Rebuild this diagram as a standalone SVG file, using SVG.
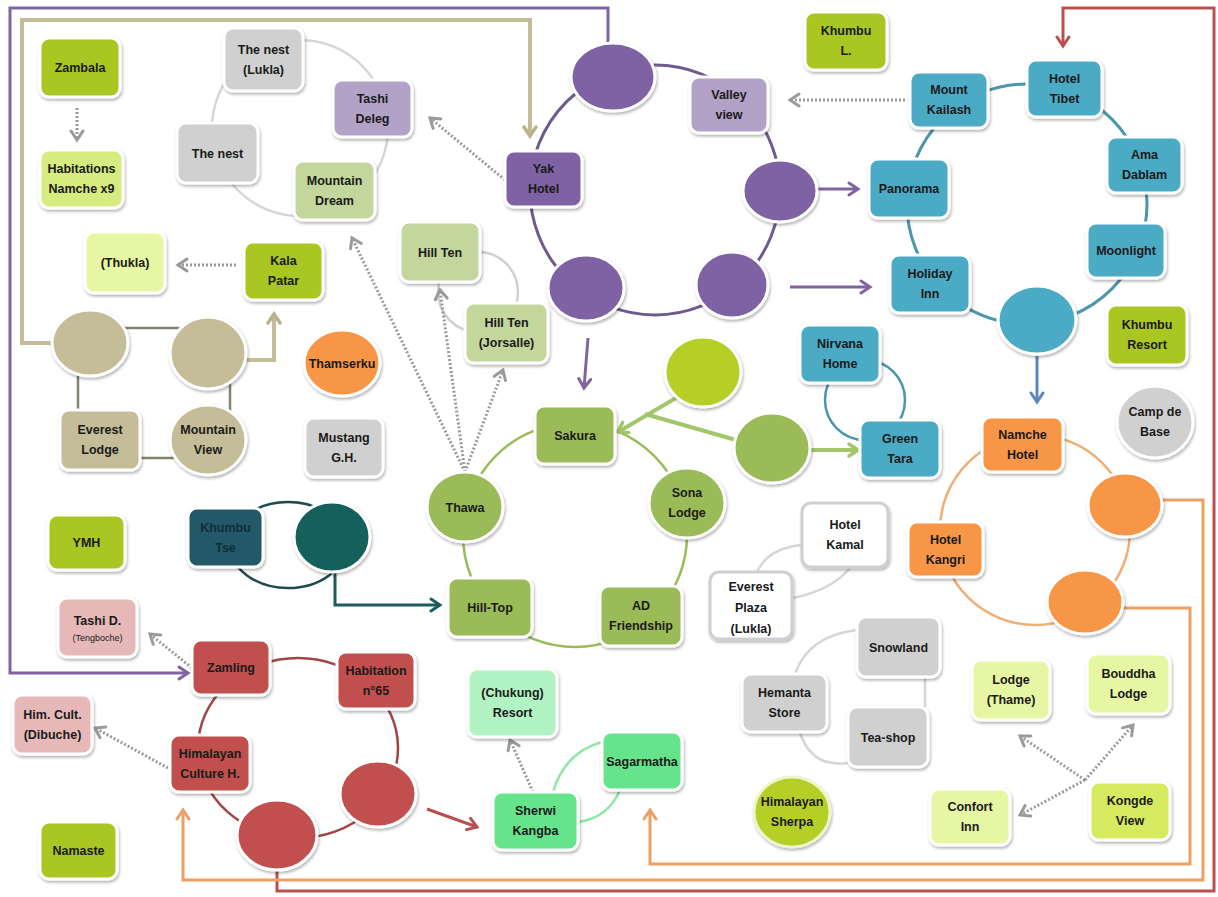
<svg xmlns="http://www.w3.org/2000/svg" width="1218" height="897" viewBox="0 0 1218 897">
<defs>
<filter id="sh" x="-20%" y="-20%" width="140%" height="150%">
<feDropShadow dx="1" dy="2" stdDeviation="1.8" flood-color="#000" flood-opacity="0.3"/>
</filter>
<marker id="aPur" markerUnits="userSpaceOnUse" markerWidth="16" markerHeight="16" viewBox="0 0 16 16" refX="13" refY="8" orient="auto"><path d="M4,2 L13,8 L4,14" fill="none" stroke="#7f64a0" stroke-width="3" stroke-linecap="round"/></marker>
<marker id="aTan" markerUnits="userSpaceOnUse" markerWidth="16" markerHeight="16" viewBox="0 0 16 16" refX="13" refY="8" orient="auto"><path d="M4,2 L13,8 L4,14" fill="none" stroke="#b9b28c" stroke-width="3.5" stroke-linecap="round"/></marker>
<marker id="aRed" markerUnits="userSpaceOnUse" markerWidth="16" markerHeight="16" viewBox="0 0 16 16" refX="13" refY="8" orient="auto"><path d="M4,2 L13,8 L4,14" fill="none" stroke="#b9504d" stroke-width="3" stroke-linecap="round"/></marker>
<marker id="aOra" markerUnits="userSpaceOnUse" markerWidth="16" markerHeight="16" viewBox="0 0 16 16" refX="13" refY="8" orient="auto"><path d="M4,2 L13,8 L4,14" fill="none" stroke="#eba064" stroke-width="3" stroke-linecap="round"/></marker>
<marker id="aBlu" markerUnits="userSpaceOnUse" markerWidth="16" markerHeight="16" viewBox="0 0 16 16" refX="13" refY="8" orient="auto"><path d="M4,2 L13,8 L4,14" fill="none" stroke="#5b86c0" stroke-width="3" stroke-linecap="round"/></marker>
<marker id="aGrn" markerUnits="userSpaceOnUse" markerWidth="16" markerHeight="16" viewBox="0 0 16 16" refX="13" refY="8" orient="auto"><path d="M4,2 L13,8 L4,14" fill="none" stroke="#a3c66b" stroke-width="3.5" stroke-linecap="round"/></marker>
<marker id="aDk" markerUnits="userSpaceOnUse" markerWidth="16" markerHeight="16" viewBox="0 0 16 16" refX="13" refY="8" orient="auto"><path d="M4,2 L13,8 L4,14" fill="none" stroke="#1f5a60" stroke-width="3" stroke-linecap="round"/></marker>
<marker id="aGry" markerUnits="userSpaceOnUse" markerWidth="16" markerHeight="16" viewBox="0 0 16 16" refX="13" refY="8" orient="auto"><path d="M4,2 L13,8 L4,14" fill="none" stroke="#9a9a9a" stroke-width="3" stroke-linecap="round"/></marker>
<style>
.n{stroke:#fff;stroke-width:3;filter:url(#sh)}
.t{font-family:"Liberation Sans",Arial,sans-serif;font-weight:bold;font-size:12.5px;fill:#1a1a1a;text-anchor:middle}
.s{font-size:9px;font-weight:normal}
.lime{fill:#a9c623}.plime{fill:#d6eb80}.vlime{fill:#e7f6a2}.klime{fill:#d6ea5e}
.grey{fill:#d0d0d0}.lav{fill:#b3a2c8}.pgrn{fill:#c3d69b}.pur{fill:#7f62a3}
.teal{fill:#4babc5}.grn{fill:#9bbb59}.tan{fill:#c4bd97}.ora{fill:#f79646}
.dteal{fill:#215868}.dcir{fill:#17605b}.red{fill:#c0504d}.pink{fill:#e6b9b8}
.mint{fill:#b2f3c4}.mgrn{fill:#66e48c}.wht{fill:#fff;stroke:#cfcfcf}.ylc{fill:#b5cf26}
.ring{fill:none}
.dash{fill:none;stroke:#9a9a9a;stroke-width:3;stroke-dasharray:2 2;marker-end:url(#aGry)}
</style>
</defs>
<rect width="1218" height="897" fill="#fff"/>
<g id="connectors">
<!-- rings -->
<circle class="ring" cx="300" cy="128" r="88" stroke="#d6d6d6" stroke-width="2.5"/>
<circle class="ring" cx="655" cy="190" r="125" stroke="#6e5a8e" stroke-width="3"/>
<circle class="ring" cx="1027" cy="204" r="120" stroke="#4a96ab" stroke-width="3"/>
<circle class="ring" cx="575" cy="535" r="112" stroke="#9bbb59" stroke-width="2.5"/>
<rect class="ring" x="78" y="328" width="152" height="130" rx="38" stroke="#85836d" stroke-width="2.5"/>
<ellipse class="ring" cx="288" cy="545" rx="58" ry="43" stroke="#1d4a52" stroke-width="2.5"/>
<ellipse class="ring" cx="298" cy="748" rx="100" ry="90" stroke="#a04545" stroke-width="2.5"/>
<circle class="ring" cx="1035" cy="530" r="95" stroke="#f0ae72" stroke-width="2.5"/>
<circle class="ring" cx="865" cy="400" r="40" stroke="#4a96ab" stroke-width="2.5"/>
<circle class="ring" cx="478" cy="292" r="40" stroke="#d0d0d0" stroke-width="2.5"/>
<path class="ring" d="M757,572 Q768,548 802,545 M793,598 Q832,590 850,568" stroke="#d6d6d6" stroke-width="2.5"/>
<path class="ring" d="M795,674 Q808,636 857,630 M800,733 Q812,768 848,763 M925,677 V707" stroke="#d6d6d6" stroke-width="2.5"/>
<path class="ring" d="M553,792 Q565,752 602,742 M578,822 Q608,818 620,790" stroke="#8fe7a6" stroke-width="2.5"/>
<!-- long connectors -->
<path d="M608,43 V8 H10 V673 H188" fill="none" stroke="#7f64a0" stroke-width="3" marker-end="url(#aPur)"/>
<path d="M52,343 H22 V20 H530 V136" fill="none" stroke="#c4bd97" stroke-width="4" marker-end="url(#aTan)"/>
<path d="M246,360 H274 V314" fill="none" stroke="#c4bd97" stroke-width="4" marker-end="url(#aTan)"/>
<path d="M277,870 V891 H1214 V8 H1063 V46" fill="none" stroke="#b9504d" stroke-width="3" marker-end="url(#aRed)"/>
<path d="M1162,500 H1203 V880 H183 V810" fill="none" stroke="#eba064" stroke-width="3" marker-end="url(#aOra)"/>
<path d="M1123,608 H1190 V864 H650 V810" fill="none" stroke="#eba064" stroke-width="3" marker-end="url(#aOra)"/>
<!-- short arrows -->
<path d="M818,189 H858" fill="none" stroke="#7f64a0" stroke-width="3" marker-end="url(#aPur)"/>
<path d="M790,287 H870" fill="none" stroke="#7f64a0" stroke-width="3" marker-end="url(#aPur)"/>
<path d="M588,338 L584,388" fill="none" stroke="#7f64a0" stroke-width="3" marker-end="url(#aPur)"/>
<path d="M1037,356 V402" fill="none" stroke="#5b86c0" stroke-width="3" marker-end="url(#aBlu)"/>
<path d="M676,398 L618,432" fill="none" stroke="#a3c66b" stroke-width="4" marker-end="url(#aGrn)"/>
<path d="M645,414 L736,440" fill="none" stroke="#a3c66b" stroke-width="4"/>
<path d="M810,450 H858" fill="none" stroke="#a3c66b" stroke-width="4" marker-end="url(#aGrn)"/>
<path d="M335,572 V605 H440" fill="none" stroke="#1f5a60" stroke-width="3" marker-end="url(#aDk)"/>
<path d="M427,809 L477,827" fill="none" stroke="#b9504d" stroke-width="3" marker-end="url(#aRed)"/>
<!-- dashed -->
<path class="dash" d="M77,108 V140"/>
<path class="dash" d="M236,265 H178"/>
<path class="dash" d="M505,180 L430,118"/>
<path class="dash" d="M905,100 H790"/>
<path class="dash" d="M465,472 L352,238"/>
<path class="dash" d="M465,472 L440,290"/>
<path class="dash" d="M465,472 L503,370"/>
<path class="dash" d="M192,668 L150,634"/>
<path class="dash" d="M168,768 L95,728"/>
<path class="dash" d="M533,792 L510,740"/>
<path class="dash" d="M1085,780 L1020,736"/>
<path class="dash" d="M1085,780 L1133,725"/>
<path class="dash" d="M1085,780 L1020,815"/>
</g>
<g id="n-zambala"><rect class="n lime" x="40" y="38" width="80" height="59" rx="9"/><text class="t" x="80" y="72">Zambala</text></g>
<g id="n-habitations"><rect class="n plime" x="40" y="150" width="83" height="58" rx="9"/><text class="t" x="81.5" y="173">Habitations</text><text class="t" x="81.5" y="193">Namche x9</text></g>
<g id="n-thukla"><rect class="n vlime" x="85" y="232" width="80" height="61" rx="9"/><text class="t" x="125" y="267">(Thukla)</text></g>
<g id="n-kalapatar"><rect class="n lime" x="244" y="242" width="79" height="58" rx="9"/><text class="t" x="283.5" y="265">Kala</text><text class="t" x="283.5" y="285">Patar</text></g>
<g id="n-nestlukla"><rect class="n grey" x="224" y="28" width="79" height="63" rx="9"/><text class="t" x="263.5" y="53.5">The nest</text><text class="t" x="263.5" y="73.5">(Lukla)</text></g>
<g id="n-nest"><rect class="n grey" x="177" y="123" width="81" height="60" rx="9"/><text class="t" x="217.5" y="157.5">The nest</text></g>
<g id="n-tashideleg"><rect class="n lav" x="333" y="80" width="79" height="57" rx="9"/><text class="t" x="372.5" y="102.5">Tashi</text><text class="t" x="372.5" y="122.5">Deleg</text></g>
<g id="n-mountaindream"><rect class="n pgrn" x="294" y="161" width="81" height="59" rx="9"/><text class="t" x="334.5" y="184.5">Mountain</text><text class="t" x="334.5" y="204.5">Dream</text></g>
<g id="n-yak"><rect class="n pur" x="505" y="151" width="77" height="56" rx="9"/><text class="t" x="543.5" y="173">Yak</text><text class="t" x="543.5" y="193">Hotel</text></g>
<g id="n-pc1"><ellipse class="n pur" cx="613" cy="77" rx="42" ry="34"/></g>
<g id="n-valley"><rect class="n lav" x="690" y="77" width="78" height="56" rx="9"/><text class="t" x="729" y="99">Valley</text><text class="t" x="729" y="119">view</text></g>
<g id="n-pc2"><ellipse class="n pur" cx="780" cy="191" rx="37" ry="31"/></g>
<g id="n-pc3"><ellipse class="n pur" cx="732" cy="285" rx="36" ry="33"/></g>
<g id="n-pc4"><ellipse class="n pur" cx="586" cy="288" rx="38" ry="33"/></g>
<g id="n-khumbul"><rect class="n lime" x="805" y="12" width="82" height="58" rx="9"/><text class="t" x="846" y="35">Khumbu</text><text class="t" x="846" y="55">L.</text></g>
<g id="n-kailash"><rect class="n teal" x="910" y="72" width="78" height="56" rx="9"/><text class="t" x="949" y="94">Mount</text><text class="t" x="949" y="114">Kailash</text></g>
<g id="n-tibet"><rect class="n teal" x="1027" y="60" width="75" height="57" rx="9"/><text class="t" x="1064.5" y="82.5">Hotel</text><text class="t" x="1064.5" y="102.5">Tibet</text></g>
<g id="n-ama"><rect class="n teal" x="1107" y="137" width="75" height="56" rx="9"/><text class="t" x="1144.5" y="159">Ama</text><text class="t" x="1144.5" y="179">Dablam</text></g>
<g id="n-moonlight"><rect class="n teal" x="1087" y="223" width="78" height="55" rx="9"/><text class="t" x="1126" y="255">Moonlight</text></g>
<g id="n-panorama"><rect class="n teal" x="869" y="159" width="80" height="59" rx="9"/><text class="t" x="909" y="193">Panorama</text></g>
<g id="n-holiday"><rect class="n teal" x="890" y="255" width="80" height="58" rx="9"/><text class="t" x="930" y="278">Holiday</text><text class="t" x="930" y="298">Inn</text></g>
<g id="n-tc"><ellipse class="n teal" cx="1037" cy="320" rx="39" ry="34"/></g>
<g id="n-khumburesort"><rect class="n lime" x="1107" y="305" width="80" height="60" rx="9"/><text class="t" x="1147" y="329">Khumbu</text><text class="t" x="1147" y="349">Resort</text></g>
<g id="n-campdebase"><ellipse class="n grey" cx="1155" cy="422" rx="38" ry="36"/><text class="t" x="1155" y="416">Camp de</text><text class="t" x="1155" y="436">Base</text></g>
<g id="n-nirvana"><rect class="n teal" x="800" y="325" width="80" height="58" rx="9"/><text class="t" x="840" y="348">Nirvana</text><text class="t" x="840" y="368">Home</text></g>
<g id="n-greentara"><rect class="n teal" x="860" y="420" width="80" height="58" rx="9"/><text class="t" x="900" y="443">Green</text><text class="t" x="900" y="463">Tara</text></g>
<g id="n-namche"><rect class="n ora" x="982" y="417" width="81" height="55" rx="9"/><text class="t" x="1022.5" y="438.5">Namche</text><text class="t" x="1022.5" y="458.5">Hotel</text></g>
<g id="n-kangri"><rect class="n ora" x="908" y="522" width="75" height="55" rx="9"/><text class="t" x="945.5" y="543.5">Hotel</text><text class="t" x="945.5" y="563.5">Kangri</text></g>
<g id="n-oc1"><ellipse class="n ora" cx="1125" cy="505" rx="37" ry="32"/></g>
<g id="n-oc2"><ellipse class="n ora" cx="1085" cy="602" rx="38" ry="32"/></g>
<g id="n-hillten"><rect class="n pgrn" x="400" y="222" width="80" height="60" rx="9"/><text class="t" x="440" y="256.5">Hill Ten</text></g>
<g id="n-jorsalle"><rect class="n pgrn" x="465" y="303" width="83" height="60" rx="9"/><text class="t" x="506.5" y="327">Hill Ten</text><text class="t" x="506.5" y="347">(Jorsalle)</text></g>
<g id="n-thamserku"><ellipse class="n ora" cx="342" cy="363" rx="38" ry="33"/><text class="t" x="342" y="367.5">Thamserku</text></g>
<g id="n-mustang"><rect class="n grey" x="305" y="418" width="78" height="59" rx="9"/><text class="t" x="344" y="441.5">Mustang</text><text class="t" x="344" y="461.5">G.H.</text></g>
<g id="n-tc1"><ellipse class="n tan" cx="90" cy="343" rx="38" ry="33"/></g>
<g id="n-tc2"><ellipse class="n tan" cx="208" cy="353" rx="38" ry="36"/></g>
<g id="n-everestlodge"><rect class="n tan" x="60" y="410" width="80" height="60" rx="9"/><text class="t" x="100" y="434">Everest</text><text class="t" x="100" y="454">Lodge</text></g>
<g id="n-mountainview"><ellipse class="n tan" cx="208" cy="440" rx="38" ry="35"/><text class="t" x="208" y="434">Mountain</text><text class="t" x="208" y="454">View</text></g>
<g id="n-sakura"><rect class="n grn" x="535" y="406" width="80" height="58" rx="9"/><text class="t" x="575" y="439.5">Sakura</text></g>
<g id="n-thawa"><ellipse class="n grn" cx="465" cy="507" rx="38" ry="35"/><text class="t" x="465" y="511.5">Thawa</text></g>
<g id="n-sona"><ellipse class="n grn" cx="687" cy="503" rx="38" ry="35"/><text class="t" x="687" y="497">Sona</text><text class="t" x="687" y="517">Lodge</text></g>
<g id="n-hilltop"><rect class="n grn" x="448" y="578" width="84" height="59" rx="9"/><text class="t" x="490" y="612">Hill-Top</text></g>
<g id="n-adfriend"><rect class="n grn" x="600" y="586" width="82" height="60" rx="9"/><text class="t" x="641" y="610">AD</text><text class="t" x="641" y="630">Friendship</text></g>
<g id="n-gc1"><ellipse class="n ylc" cx="703" cy="372" rx="38" ry="35"/></g>
<g id="n-gc2"><ellipse class="n grn" cx="772" cy="448" rx="38" ry="35"/></g>
<g id="n-khumbutse"><rect class="n dteal" x="188" y="508" width="75" height="59" rx="9"/><text class="t" x="225.5" y="531.5" style="fill:#0f2f38">Khumbu</text><text class="t" x="225.5" y="551.5" style="fill:#0f2f38">Tse</text></g>
<g id="n-dtc"><ellipse class="n dcir" cx="332" cy="537" rx="38" ry="35"/></g>
<g id="n-ymh"><rect class="n lime" x="48" y="515" width="77" height="55" rx="9"/><text class="t" x="86.5" y="547">YMH</text></g>
<g id="n-tashid"><rect class="n pink" x="58" y="598" width="79" height="59" rx="9"/><text class="t" x="97.5" y="625">Tashi D.</text><text class="t s" x="97.5" y="641">(Tengboche)</text></g>
<g id="n-zamling"><rect class="n red" x="192" y="640" width="78" height="55" rx="9"/><text class="t" x="231" y="672">Zamling</text></g>
<g id="n-hab65"><rect class="n red" x="337" y="652" width="78" height="57" rx="9"/><text class="t" x="376" y="674.5">Habitation</text><text class="t" x="376" y="694.5">n°65</text></g>
<g id="n-himcult"><rect class="n pink" x="13" y="695" width="79" height="59" rx="9"/><text class="t" x="52.5" y="718.5">Him. Cult.</text><text class="t" x="52.5" y="738.5">(Dibuche)</text></g>
<g id="n-himculture"><rect class="n red" x="170" y="735" width="80" height="57" rx="9"/><text class="t" x="210" y="757.5">Himalayan</text><text class="t" x="210" y="777.5">Culture H.</text></g>
<g id="n-rc1"><ellipse class="n red" cx="378" cy="794" rx="38" ry="33"/></g>
<g id="n-rc2"><ellipse class="n red" cx="277" cy="835" rx="40" ry="35"/></g>
<g id="n-namaste"><rect class="n lime" x="40" y="822" width="77" height="57" rx="9"/><text class="t" x="78.5" y="855">Namaste</text></g>
<g id="n-chukung"><rect class="n mint" x="468" y="669" width="89" height="68" rx="9"/><text class="t" x="512.5" y="697">(Chukung)</text><text class="t" x="512.5" y="717">Resort</text></g>
<g id="n-sherwi"><rect class="n mgrn" x="493" y="792" width="85" height="58" rx="9"/><text class="t" x="535.5" y="815">Sherwi</text><text class="t" x="535.5" y="835">Kangba</text></g>
<g id="n-sagarmatha"><rect class="n mgrn" x="602" y="732" width="80" height="58" rx="9"/><text class="t" x="642" y="765.5">Sagarmatha</text></g>
<g id="n-kamal"><rect class="n wht" x="802" y="503" width="86" height="64" rx="9"/><text class="t" x="845" y="529">Hotel</text><text class="t" x="845" y="549">Kamal</text></g>
<g id="n-plaza"><rect class="n wht" x="710" y="572" width="82" height="67" rx="9"/><text class="t" x="751" y="591">Everest</text><text class="t" x="751" y="612">Plaza</text><text class="t" x="751" y="633">(Lukla)</text></g>
<g id="n-snowland"><rect class="n grey" x="857" y="617" width="83" height="60" rx="9"/><text class="t" x="898.5" y="651.5">Snowland</text></g>
<g id="n-hemanta"><rect class="n grey" x="742" y="674" width="85" height="58" rx="9"/><text class="t" x="784.5" y="697">Hemanta</text><text class="t" x="784.5" y="717">Store</text></g>
<g id="n-teashop"><rect class="n grey" x="848" y="707" width="80" height="60" rx="9"/><text class="t" x="888" y="741.5">Tea-shop</text></g>
<g id="n-himsherpa"><ellipse class="n ylc" cx="792" cy="812" rx="38" ry="35" style="stroke:#eef5c8"/><text class="t" x="792" y="806">Himalayan</text><text class="t" x="792" y="826">Sherpa</text></g>
<g id="n-thame"><rect class="n vlime" x="972" y="660" width="78" height="60" rx="9"/><text class="t" x="1011" y="684">Lodge</text><text class="t" x="1011" y="704">(Thame)</text></g>
<g id="n-bouddha"><rect class="n vlime" x="1087" y="654" width="83" height="60" rx="9"/><text class="t" x="1128.5" y="678">Bouddha</text><text class="t" x="1128.5" y="698">Lodge</text></g>
<g id="n-confort"><rect class="n vlime" x="930" y="789" width="80" height="56" rx="9"/><text class="t" x="970" y="811">Confort</text><text class="t" x="970" y="831">Inn</text></g>
<g id="n-kongde"><rect class="n klime" x="1090" y="782" width="80" height="58" rx="9"/><text class="t" x="1130" y="805">Kongde</text><text class="t" x="1130" y="825">View</text></g>
</svg>
